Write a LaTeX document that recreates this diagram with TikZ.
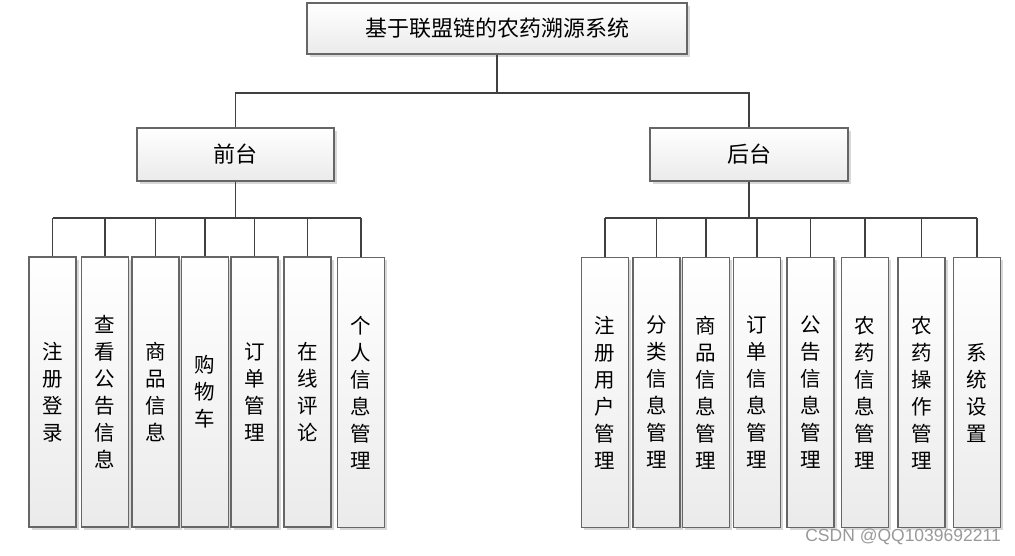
\documentclass[tikz,border=0pt]{standalone}
\usepackage{fontspec}
\newfontfamily\cjk{Noto Sans CJK SC}
\newfontfamily\wmfont{Liberation Sans}
\usetikzlibrary{shadows}
\begin{document}
\begin{tikzpicture}[x=1pt,y=-1pt,
  box/.style={draw=black!60, line width=1.1pt, rectangle, inner sep=0pt,
    top color=white, bottom color=black!8,
    drop shadow={shadow xshift=2.5pt, shadow yshift=-2.5pt, fill=black!30, opacity=0.5}},
  headbox/.style={box, font=\cjk\fontsize{22}{24}\selectfont},
  kidbox/.style={box, minimum width=47pt, minimum height=270pt, align=center,
    font=\cjk\fontsize{20.5}{27}\selectfont},
  conn/.style={draw=black!75, line width=1.5pt}]
\useasboundingbox (0,0) rectangle (1015,555);
\fill[white] (0,0) rectangle (1015,555);

\node[headbox, minimum width=380pt, minimum height=51pt] (top) at (497,28.5) {基于联盟链的农药溯源系统};
\node[headbox, minimum width=197pt, minimum height=53pt] (front) at (235.5,154.5) {前台};
\node[headbox, minimum width=198pt, minimum height=53pt] (back) at (749,154.5) {后台};

\node[kidbox] (f1) at (52.5,392) {注\\册\\登\\录};
\node[kidbox] (f2) at (105,392) {查\\看\\公\\告\\信\\息};
\node[kidbox] (f3) at (155.5,392) {商\\品\\信\\息};
\node[kidbox] (f4) at (205,392) {购\\物\\车};
\node[kidbox] (f5) at (254.5,392) {订\\单\\管\\理};
\node[kidbox] (f6) at (307.5,392) {在\\线\\评\\论};
\node[kidbox] (f7) at (361,392.5) {个\\人\\信\\息\\管\\理};

\node[kidbox] (b1) at (605,392.5) {注\\册\\用\\户\\管\\理};
\node[kidbox] (b2) at (656.5,392.5) {分\\类\\信\\息\\管\\理};
\node[kidbox] (b3) at (706,392.5) {商\\品\\信\\息\\管\\理};
\node[kidbox] (b4) at (757,392.5) {订\\单\\信\\息\\管\\理};
\node[kidbox] (b5) at (810.5,392.5) {公\\告\\信\\息\\管\\理};
\node[kidbox] (b6) at (865,392.5) {农\\药\\信\\息\\管\\理};
\node[kidbox] (b7) at (921.5,392.5) {农\\药\\操\\作\\管\\理};
\node[kidbox] (b8) at (977,392.5) {系\\统\\设\\置};

\coordinate (j0) at (497,93);
\coordinate (jf) at (235.5,218);
\coordinate (jb) at (749,218);

\draw[conn] (top.south) -- (j0);
\draw[conn] (front.north) -- (front.north |- j0) -- (back.north |- j0) -- (back.north);
\draw[conn] (front.south) -- (jf);
\draw[conn] (back.south) -- (jb);
\draw[conn] (f1.north |- jf) -- (f7.north |- jf);
\draw[conn] (b1.north |- jb) -- (b8.north |- jb);
\foreach \k in {f1,f2,f3,f4,f5,f6,f7}{\draw[conn] (\k.north) -- (\k.north |- jf);}
\foreach \k in {b1,b2,b3,b4,b5,b6,b7,b8}{\draw[conn] (\k.north) -- (\k.north |- jb);}

\node[font=\wmfont\fontsize{17.5}{18}\selectfont, text=black!40, anchor=east, inner sep=0pt] (wm) at (1001,537) {CSDN @QQ1039692211};
\end{tikzpicture}
\end{document}
